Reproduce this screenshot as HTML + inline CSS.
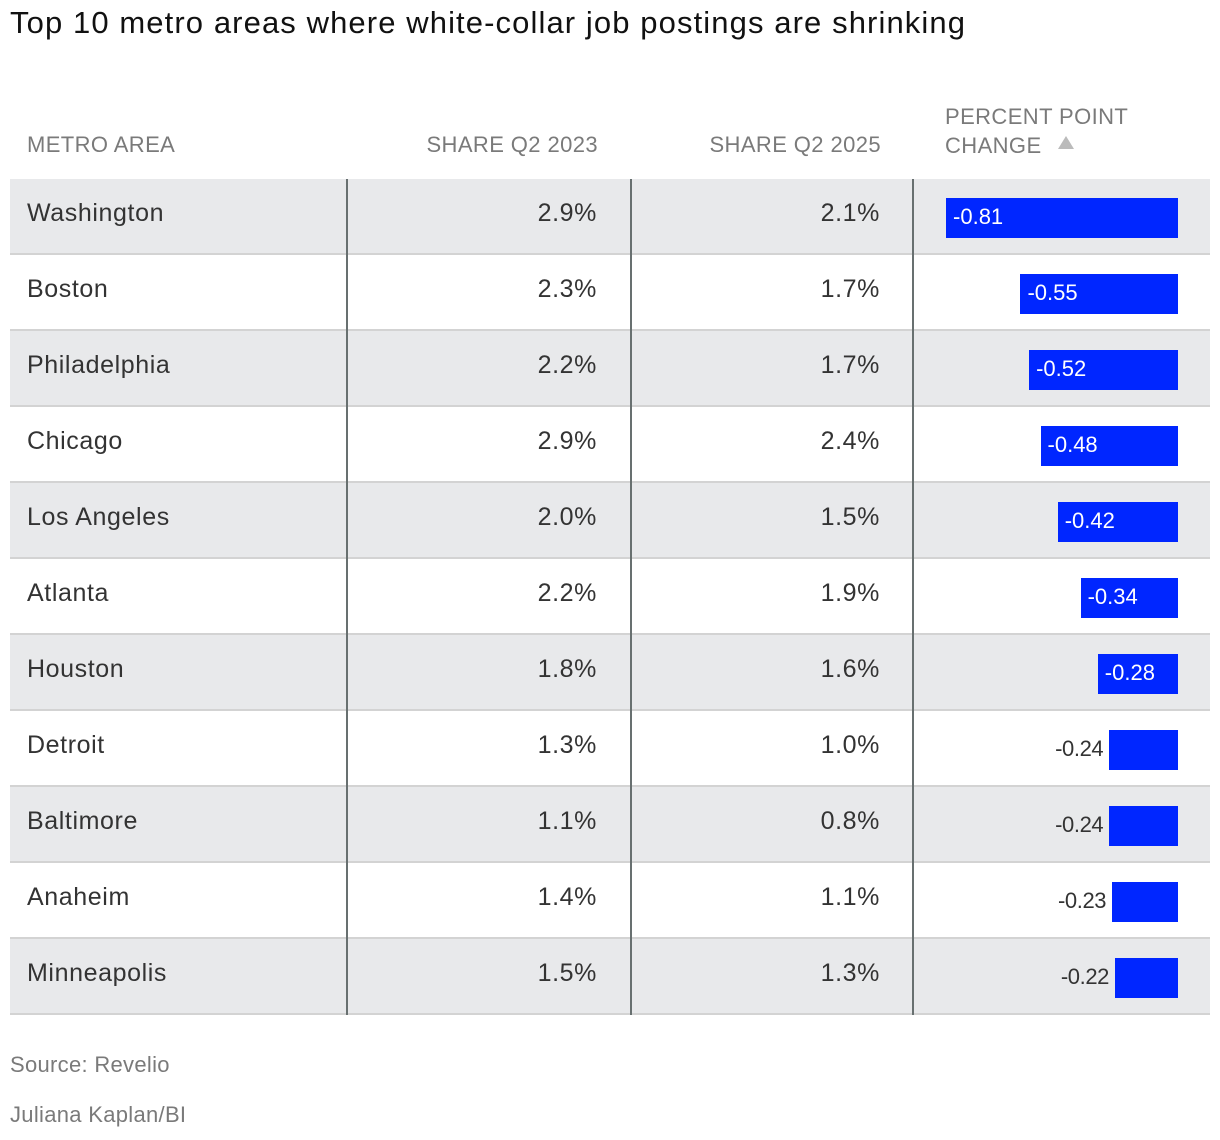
<!DOCTYPE html>
<html><head><meta charset="utf-8"><style>
body{margin:0;background:#fff;font-family:"Liberation Sans",sans-serif;color:#333;}
#root{position:relative;width:1220px;height:1140px;overflow:hidden;}
.abs{position:absolute;}
.title{left:10px;top:5px;font-size:31px;color:#111;letter-spacing:1.1px;}
.hdr{font-size:22px;color:#7a7a7a;letter-spacing:0.4px;}
.cell{font-size:25px;color:#333;letter-spacing:0.6px;}
.foot{font-size:22px;color:#7a7a7a;left:10px;letter-spacing:0.3px;}
</style></head><body>
<div id="root">
<div class="abs title">Top 10 metro areas where white-collar job postings are shrinking</div>
<div class="abs hdr" style="left:27px;top:132px">METRO AREA</div>
<div class="abs hdr" style="right:622px;top:132px">SHARE Q2 2023</div>
<div class="abs hdr" style="right:339px;top:132px">SHARE Q2 2025</div>
<div class="abs hdr" style="left:945px;top:102px;line-height:29px">PERCENT POINT<br>CHANGE <span style="display:inline-block;width:0;height:0;border-left:8px solid transparent;border-right:8px solid transparent;border-bottom:13px solid #bbb;margin-left:10px;vertical-align:4px"></span></div>
<div id="rows"></div>
<div class="abs foot" style="top:1052px">Source: Revelio</div>
<div class="abs foot" style="top:1102px">Juliana Kaplan/BI</div>
</div>
<script>
const metros=["Washington","Boston","Philadelphia","Chicago","Los Angeles","Atlanta","Houston","Detroit","Baltimore","Anaheim","Minneapolis"];
const share2023=["2.9%","2.3%","2.2%","2.9%","2.0%","2.2%","1.8%","1.3%","1.1%","1.4%","1.5%"];
const share2025=["2.1%","1.7%","1.7%","2.4%","1.5%","1.9%","1.6%","1.0%","0.8%","1.1%","1.3%"];
const changes=[-0.81,-0.55,-0.52,-0.48,-0.42,-0.34,-0.28,-0.24,-0.24,-0.23,-0.22];
const root=document.getElementById('rows');
const top0=179,rowH=76,barRight=1178,pxPerUnit=286.4;
const xs=v=>Math.abs(v)*pxPerUnit;
metros.forEach((m,i)=>{
  const y=top0+i*rowH;
  const r=document.createElement('div');
  r.className='abs';
  
  
  r.style.cssText=`left:10px;top:${y}px;width:1200px;height:${rowH}px;background:${i%2===0?'#e8e9eb':'#fff'};box-sizing:border-box;border-bottom:2px solid #d3d3d3;`;
  root.appendChild(r);
  [347,631,913].forEach(x=>{
    const l=document.createElement('div');
    l.className='abs';
    
    
    l.style.cssText=`left:${x-1}px;top:${y}px;width:2px;height:${rowH}px;background:#687070;`;
    root.appendChild(l);
  });
  const t=(txt,css,name)=>{const d=document.createElement('div');d.className='abs cell';d.textContent=txt;d.style.cssText=css;
    
    
    root.appendChild(d);};
  t(m,`left:27px;top:${y+20}px;`,'metro-name');
  t(share2023[i],`right:${1220-597}px;top:${y+20}px;`,'share-2023-value');
  t(share2025[i],`right:${1220-880}px;top:${y+20}px;`,'share-2025-value');
  const w=xs(changes[i]);
  const b=document.createElement('div');
  b.className='abs';
  
  
  b.style.cssText=`left:${barRight-w}px;top:${y+19}px;width:${w}px;height:40px;background:#0026ff;`;
  root.appendChild(b);
  const lab=document.createElement('div');
  lab.className='abs';
  
  
  lab.textContent=changes[i].toFixed(2);
  if(w>75){lab.style.cssText=`left:${barRight-w+7}px;top:${y+25}px;font-size:22px;color:#fff;letter-spacing:0px;`;}
  else{lab.style.cssText=`right:${1220-(barRight-w)+6}px;top:${y+25}px;font-size:22px;color:#333;letter-spacing:-0.4px;`;}
  root.appendChild(lab);
});
</script>
</body></html>
